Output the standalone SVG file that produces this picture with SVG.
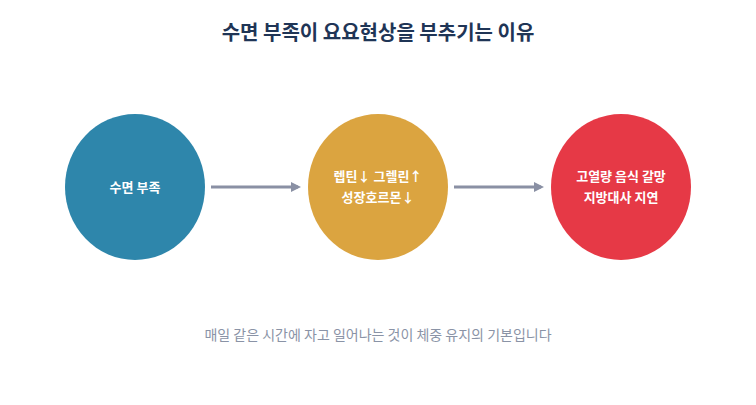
<svg xmlns="http://www.w3.org/2000/svg" width="756" height="405" viewBox="0 0 756 405">
<style>
text{font-family:"Noto Sans CJK KR","Noto Sans",sans-serif;text-anchor:middle}
.t{font-size:13px;font-weight:bold;fill:#fff}
.c{stroke:#8a90a4;stroke-width:3;fill:none}
</style>
<defs><marker id="a" markerWidth="10" markerHeight="10" refX="7" refY="5" orient="auto" markerUnits="userSpaceOnUse"><path d="M0,0L10,5L0,10z" fill="#8a90a4"/></marker></defs>
<rect width="756" height="405" fill="#fff"/>
<text x="378" y="40" font-size="20" font-weight="bold" fill="#1f3556">수면 부족이 요요현상을 부추기는 이유</text>
<g id="n1"><ellipse cx="135" cy="187" rx="70" ry="73" fill="#2e86ab"/><text class="t" x="135" y="192">수면 부족</text></g>
<g id="n2"><ellipse cx="378" cy="187" rx="70" ry="73" fill="#dba440"/><text class="t" x="378" y="181">렙틴↓ 그렐린↑</text><text class="t" x="378" y="202">성장호르몬↓</text></g>
<g id="n3"><ellipse cx="621" cy="187" rx="70" ry="73" fill="#e63946"/><text class="t" x="621" y="181">고열량 음식 갈망</text><text class="t" x="621" y="202">지방대사 지연</text></g>
<g id="edges"><line class="c" x1="211" y1="187" x2="298" y2="187" marker-end="url(#a)"/><line class="c" x1="454" y1="187" x2="541" y2="187" marker-end="url(#a)"/></g>
<text x="378" y="340" font-size="14" fill="#8a93a6">매일 같은 시간에 자고 일어나는 것이 체중 유지의 기본입니다</text>
</svg>
